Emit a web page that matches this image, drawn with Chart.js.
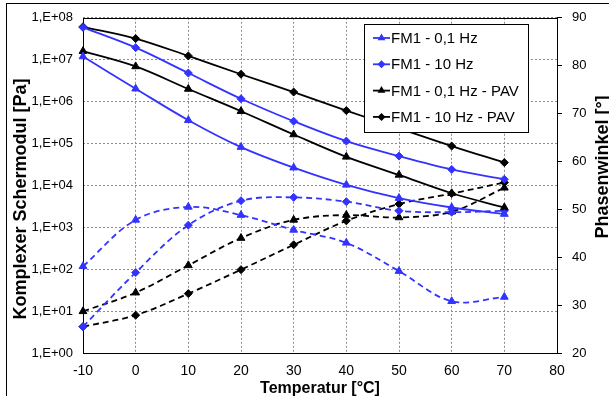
<!DOCTYPE html>
<html>
<head>
<meta charset="utf-8">
<script src="https://cdn.jsdelivr.net/npm/chart.js@4"></script>
<style>
  html, body { margin: 0; padding: 0; background: #fff; }
</style>
</head>
<body>
<canvas id="chart" width="609" height="396"></canvas>
<script>
// data
const temps = [-10, 0, 10, 20, 30, 40, 50, 60, 70];
const g01 = [1.19e7, 2.03e6, 3.6e5, 8.2e4, 2.65e4, 1.03e4, 4.97e3, 2.97e3, 2.07e3];
const g10 = [5.9e7, 1.94e7, 4.8e6, 1.17e6, 3.4e5, 1.14e5, 5.0e4, 2.4e4, 1.4e4];
const g01Pav = [1.6e7, 6.9e6, 2.0e6, 5.9e5, 1.64e5, 4.8e4, 1.78e4, 6.5e3, 2.97e3];
const g10Pav = [6.1e7, 3.2e7, 1.23e7, 4.5e6, 1.69e6, 6.1e5, 2.3e5, 8.7e4, 3.5e4];
const phi01 = [38.1, 47.8, 50.5, 48.8, 45.7, 43.0, 37.1, 30.8, 31.7];
const phi10 = [25.5, 36.8, 46.7, 51.8, 52.5, 51.6, 49.7, 49.4, 49.7];
const phi01Pav = [28.7, 32.6, 38.3, 44.0, 47.8, 48.8, 48.3, 49.5, 54.5];
const phi10Pav = [25.5, 27.9, 32.4, 37.4, 42.6, 47.6, 51.1, 53.3, 55.6];

const legendLabels = ['FM1 - 0,1 Hz', 'FM1 - 10 Hz', 'FM1 - 0,1 Hz - PAV', 'FM1 - 10 Hz - PAV'];
const xTicks = [-10, 0, 10, 20, 30, 40, 50, 60, 70, 80];
const modulusTicks = [1, 1e1, 1e2, 1e3, 1e4, 1e5, 1e6, 1e7, 1e8];
const phaseTicks = [20, 30, 40, 50, 60, 70, 80, 90];

const FONT = '"Liberation Sans", Arial, sans-serif';
const BLUE = '#3333ff';
Chart.defaults.font.family = FONT;
Chart.defaults.font.size = 14;
Chart.defaults.color = '#000';

function series(label, values, color, style, axis, dashed) {
  return {
    label,
    data: temps.map((t, i) => ({ x: t, y: values[i] })),
    yAxisID: axis,
    borderColor: color,
    backgroundColor: color,
    pointStyle: style,
    pointRadius: style === 'triangle' ? 4.5 : 4,
    pointBorderWidth: 1,
    borderWidth: 1.8,
    borderDash: dashed ? [6, 4] : [],
    tension: 0.35,
    clip: false
  };
}

const datasets = [
  series(legendLabels[0], g01, BLUE, 'triangle', 'y', false),
  series(legendLabels[1], g10, BLUE, 'rectRot', 'y', false),
  series(legendLabels[2], g01Pav, '#000', 'triangle', 'y', false),
  series(legendLabels[3], g10Pav, '#000', 'rectRot', 'y', false),
  series('phi 0,1 Hz', phi01, BLUE, 'triangle', 'y1', true),
  series('phi 10 Hz', phi10, BLUE, 'rectRot', 'y1', true),
  series('phi 0,1 Hz PAV', phi01Pav, '#000', 'triangle', 'y1', true),
  series('phi 10 Hz PAV', phi10Pav, '#000', 'rectRot', 'y1', true)
];

function marker(ctx, style, x, y) {
  ctx.beginPath();
  if (style === 'triangle') {
    const r = 4.5;
    ctx.moveTo(x, y - r);
    ctx.lineTo(x + r * 0.866, y + r / 2);
    ctx.lineTo(x - r * 0.866, y + r / 2);
  } else {
    const r = 4;
    ctx.moveTo(x, y - r);
    ctx.lineTo(x + r, y);
    ctx.lineTo(x, y + r);
    ctx.lineTo(x - r, y);
  }
  ctx.closePath();
  ctx.fill();
}

const decorations = {
  id: 'decorations',
  beforeDatasetsDraw(chart) {
    const { ctx, chartArea: a } = chart;
    ctx.save();
    ctx.setLineDash([]);
    ctx.strokeStyle = '#000';
    ctx.lineWidth = 1;
    ctx.strokeRect(Math.round(a.left) + 0.5, Math.round(a.top) + 0.5,
      Math.round(a.right - a.left), Math.round(a.bottom - a.top));
    ctx.restore();
  },
  afterDraw(chart) {
    const { ctx, chartArea: a } = chart;
    ctx.save();
    ctx.setLineDash([]);
    ctx.strokeStyle = '#000';
    ctx.lineWidth = 1;
    ctx.strokeRect(6.5, 3.5, 700, 500);

    // axis titles
    ctx.fillStyle = '#000';
    ctx.textAlign = 'center';
    ctx.textBaseline = 'alphabetic';
    ctx.font = 'bold 16px ' + FONT;
    ctx.fillText('Temperatur [°C]', (a.left + a.right) / 2, 393);

    ctx.font = 'bold 18px ' + FONT;
    ctx.save();
    ctx.translate(26, 199);
    ctx.rotate(-Math.PI / 2);
    ctx.fillText('Komplexer Schermodul [Pa]', 0, 0);
    ctx.restore();

    ctx.save();
    ctx.translate(608, 167);
    ctx.rotate(-Math.PI / 2);
    ctx.fillText('Phasenwinkel [°]', 0, 0);
    ctx.restore();

    // legend box
    ctx.fillStyle = '#fff';
    ctx.fillRect(364.5, 24.5, 164, 108);
    ctx.strokeRect(364.5, 24.5, 164, 108);
    ctx.font = '15px ' + FONT;
    ctx.textAlign = 'left';
    ctx.textBaseline = 'middle';
    legendLabels.forEach((label, i) => {
      const ds = chart.data.datasets[i];
      const y = 38 + i * 26.3;
      ctx.strokeStyle = ds.borderColor;
      ctx.fillStyle = ds.borderColor;
      ctx.lineWidth = 1.8;
      ctx.beginPath();
      ctx.moveTo(373, y);
      ctx.lineTo(390, y);
      ctx.stroke();
      marker(ctx, ds.pointStyle, 381.5, y);
      ctx.fillStyle = '#000';
      ctx.fillText(label, 391, y + 1);
    });
    ctx.restore();
  }
};

new Chart(document.getElementById('chart'), {
  type: 'line',
  data: { datasets },
  options: {
    responsive: false,
    animation: false,
    layout: { padding: { top: 16, left: 0, right: 0, bottom: 0 } },
    plugins: { legend: { display: false }, tooltip: { enabled: false } },
    scales: {
      x: {
        type: 'linear',
        min: -10,
        max: 80,
        afterBuildTicks: s => { s.ticks = xTicks.map(v => ({ value: v })); },
        ticks: { padding: 10, maxRotation: 0, autoSkip: false },
        grid: { color: '#8c8c8c', drawTicks: false },
        border: { display: false, dash: [2, 2] },
        afterFit: s => { s.height = 43; }
      },
      y: {
        type: 'logarithmic',
        position: 'left',
        min: 1,
        max: 1e8,
        afterBuildTicks: s => { s.ticks = modulusTicks.map(v => ({ value: v })); },
        ticks: {
          padding: 10,
          autoSkip: false,
          font: { size: 13 },
          callback: v => '1,E+0' + Math.round(Math.log10(v))
        },
        grid: { color: '#8c8c8c', drawTicks: false },
        border: { display: false, dash: [2, 2] },
        afterFit: s => { s.width = 83; }
      },
      y1: {
        type: 'linear',
        position: 'right',
        min: 20,
        max: 90,
        afterBuildTicks: s => { s.ticks = phaseTicks.map(v => ({ value: v })); },
        ticks: { padding: 10, autoSkip: false, font: { size: 13 } },
        grid: { drawOnChartArea: false, tickLength: 5, tickColor: '#000' },
        border: { display: false },
        afterFit: s => { s.width = 52; }
      }
    }
  },
  plugins: [decorations]
});
</script>
</body>
</html>
